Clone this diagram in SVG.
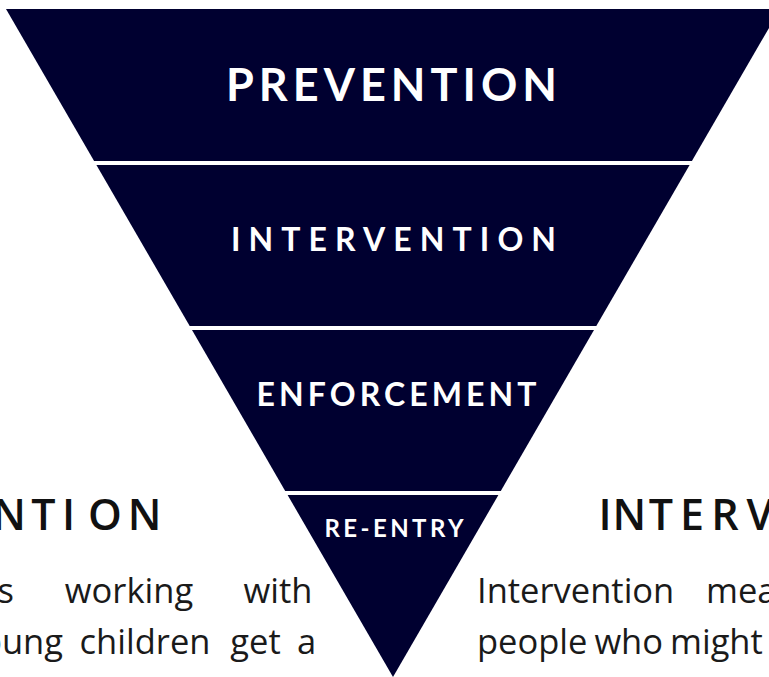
<svg xmlns="http://www.w3.org/2000/svg" width="769" height="677" viewBox="0 0 769 677">
  <style>
    .band { fill: #000030; }
    .lbl { font-family: Lato, "Liberation Sans", sans-serif; font-weight: 700; fill: #ffffff; }
    .head { font-family: "Open Sans", "Liberation Sans", sans-serif; font-weight: 600; font-size: 43px; fill: #111111; text-anchor: middle; }
    .body { font-family: "Open Sans", "Liberation Sans", sans-serif; font-size: 34.5px; fill: #1a1a1a; }
    .m { text-anchor: middle; }
    .e { text-anchor: end; }
  </style>
  <rect width="769" height="677" fill="#ffffff"/>
  <g id="background-text">
    <text class="head" x="9 43.5 68.5 105 144.5" y="529.5">NTION</text>
    <text class="head" x="605 629.3 661 692 725 760" y="529.5">INTERV</text>
    <text class="body e" x="14" y="603">s</text>
    <text class="body m" x="129" y="603">working</text>
    <text class="body m" x="278" y="603">with</text>
    <text class="body e" x="63" y="654">oung</text>
    <text class="body m" x="145" y="654">children</text>
    <text class="body m" x="255.5" y="654">get</text>
    <text class="body m" x="306.5" y="654">a</text>
    <text class="body" x="477" y="603">Intervention</text>
    <text class="body" x="706" y="603">mea</text>
    <text class="body" x="477" y="654" word-spacing="-2">people who might</text>
  </g>
  <g id="prevention">
    <polygon class="band" points="6,9 780,9 691.9,161 94.1,161"/>
    <text class="lbl" x="226" y="100.7" font-size="45" textLength="331" lengthAdjust="spacing">PREVENTION</text>
  </g>
  <g id="intervention">
    <polygon class="band" points="96.4,165 689.6,165 596.3,326 189.7,326"/>
    <text class="lbl" x="231" y="251" font-size="32" textLength="325" lengthAdjust="spacing">INTERVENTION</text>
  </g>
  <g id="enforcement">
    <polygon class="band" points="192,330 594,330 500.8,491 285.2,491"/>
    <text class="lbl" x="256.5" y="406" font-size="32" textLength="280" lengthAdjust="spacing">ENFORCEMENT</text>
  </g>
  <g id="re-entry">
    <polygon class="band" points="287.6,495 498.4,495 393,677"/>
    <text class="lbl" x="324.5" y="536.7" font-size="24" textLength="139" lengthAdjust="spacing">RE-ENTRY</text>
  </g>
  <g id="connectors"/>
</svg>
